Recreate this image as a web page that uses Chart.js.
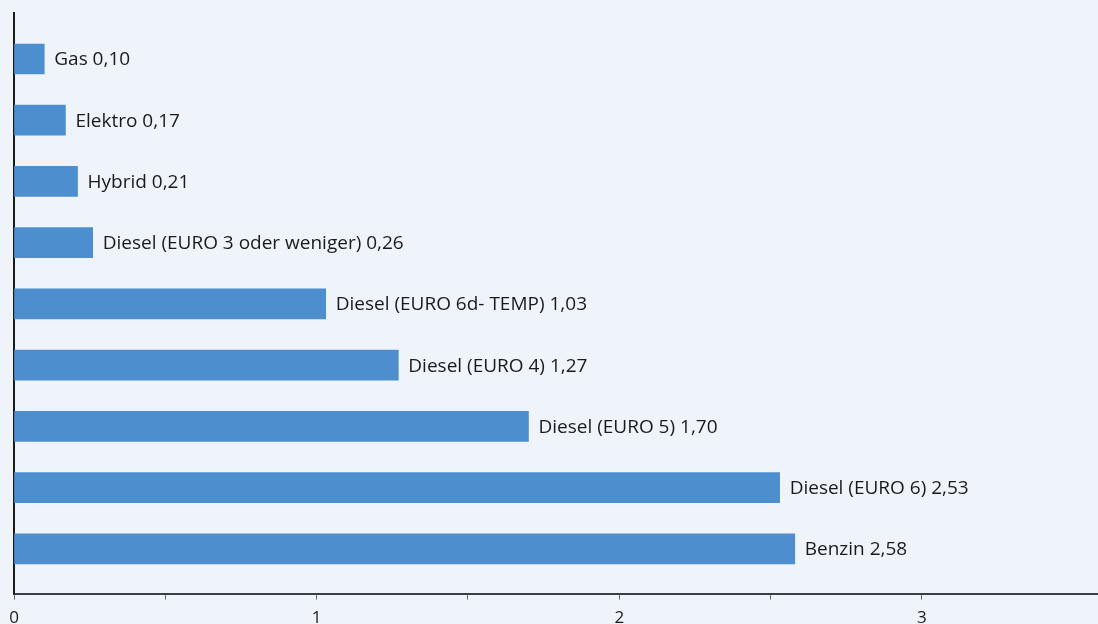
<!DOCTYPE html>
<html><head><meta charset="utf-8">
<script src="https://cdn.jsdelivr.net/npm/chart.js@4"></script>
<style>
html,body{margin:0;padding:0;background:#eff4fb;overflow:hidden;width:1098px;height:624px}
canvas{display:block}
</style></head>
<body>
<canvas id="c" width="1098" height="636"></canvas>
<script>
const categories = ["Gas","Elektro","Hybrid","Diesel (EURO 3 oder weniger)","Diesel (EURO 6d- TEMP)","Diesel (EURO 4)","Diesel (EURO 5)","Diesel (EURO 6)","Benzin"];
const values = [0.10,0.17,0.21,0.26,1.03,1.27,1.70,2.53,2.58];
const xTickLabels = {0:"0",1:"1",2:"2",3:"3"};

const FONT = "'Open Sans', sans-serif";
const fmt = v => v.toFixed(2).replace('.', ',');

const labelPlugin = {
  id: 'barLabels',
  afterDatasetsDraw(chart) {
    const ctx = chart.ctx;
    const meta = chart.getDatasetMeta(0);
    ctx.save();
    ctx.font = "19px " + FONT;
    ctx.fillStyle = "#1a1a1a";
    ctx.textBaseline = "middle";
    ctx.textAlign = "left";
    meta.data.forEach((bar, i) => {
      ctx.fillText(categories[i] + " " + fmt(values[i]), bar.x + 10, bar.y + 1);
    });
    ctx.restore();
  }
};

new Chart(document.getElementById('c'), {
  type: 'bar',
  data: {
    datasets: [{
      data: values.map((v, i) => ({x: v, y: i})),
      backgroundColor: '#4d8fce',
      borderWidth: 0,
      barThickness: 30
    }]
  },
  options: {
    indexAxis: 'y',
    responsive: false,
    animation: false,
    layout: {padding: {left: 14, top: 13, right: 0, bottom: 0}},
    plugins: {legend: {display: false}, tooltip: {enabled: false}},
    scales: {
      x: {
        type: 'linear',
        min: 0, max: 3.582,
        afterFit: s => { s.paddingLeft = 0; s.paddingRight = 0; },
        ticks: {
          stepSize: 0.5,
          padding: 8,
          color: '#1a1a1a',
          font: {family: FONT, size: 17},
          maxRotation: 0,
          autoSkip: false,
          callback: v => (xTickLabels[v] !== undefined ? xTickLabels[v] : '')
        },
        grid: {drawOnChartArea: false, drawTicks: true, tickLength: 6, color: '#666'},
        border: {display: true, color: '#3a3f45', width: 2}
      },
      y: {
        type: 'linear',
        reverse: true,
        offset: false,
        min: -0.7505, max: 8.73,
        afterFit: s => { s.width = 0; s.paddingTop = 0; s.paddingBottom = 0; },
        ticks: {display: false},
        grid: {display: false},
        border: {display: true, color: '#1a1a1a', width: 2}
      }
    }
  },
  plugins: [labelPlugin]
});
</script>
</body></html>
